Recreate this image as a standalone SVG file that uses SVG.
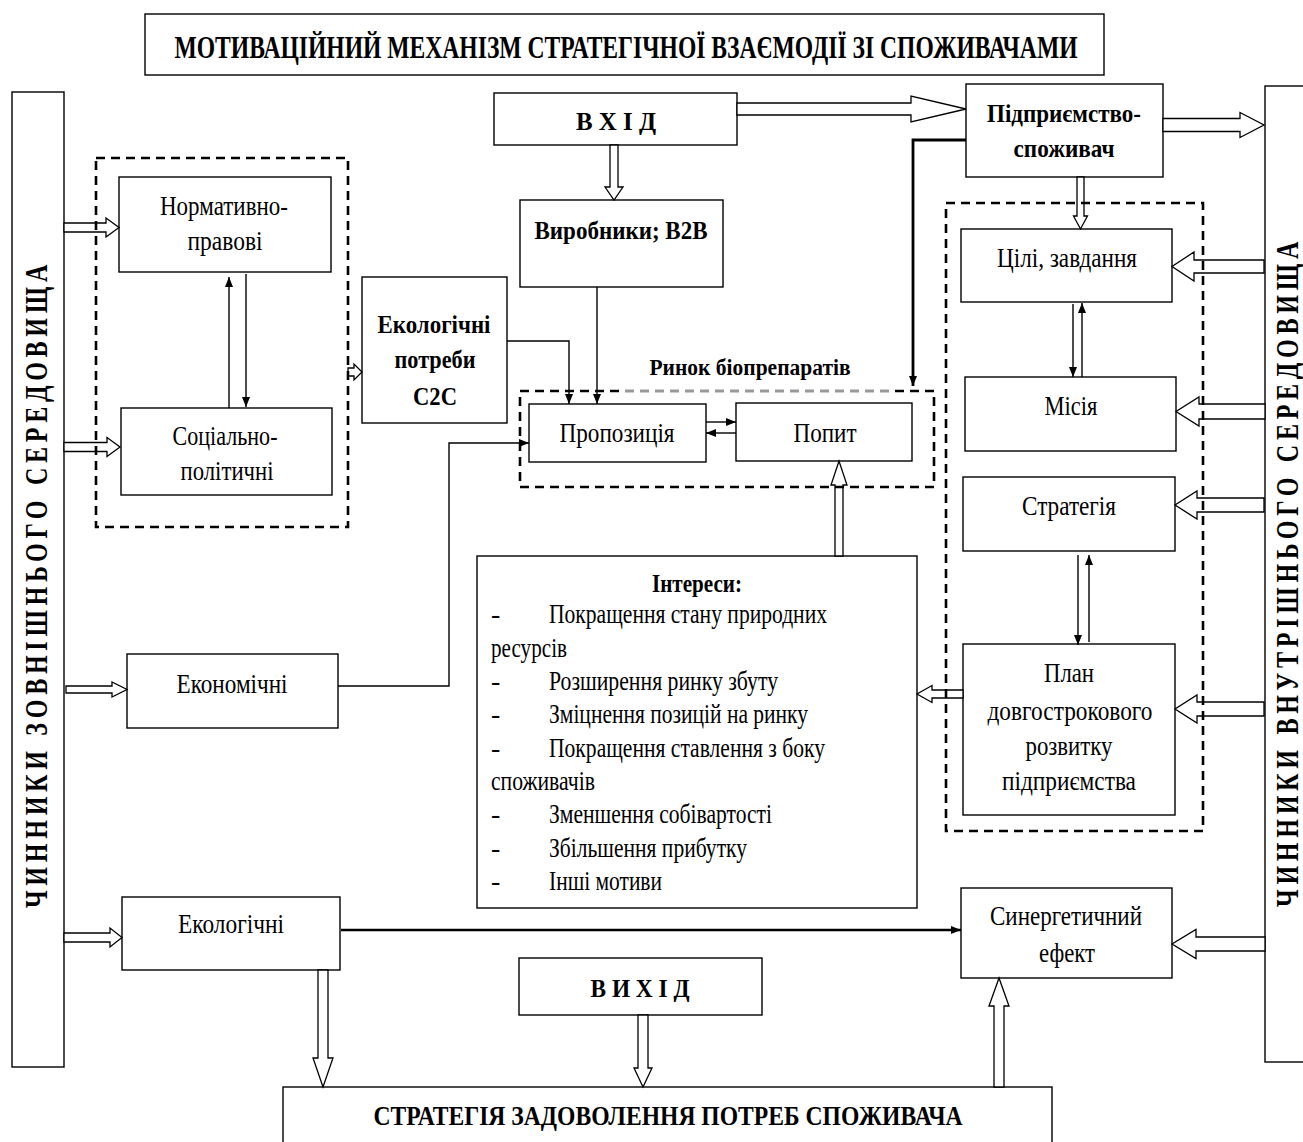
<svg xmlns="http://www.w3.org/2000/svg" width="1303" height="1142" viewBox="0 0 1303 1142">
  <defs>
    <style>
      .box { fill: #fff; stroke: #000; stroke-width: 1.4; }
      .dash { fill: none; stroke: #000; stroke-width: 2.6; stroke-dasharray: 9 6; }
      .ln { fill: none; stroke: #000; stroke-width: 1.4; marker-end: url(#ah); }
      .thick { fill: none; stroke: #000; stroke-width: 2.8; marker-end: url(#ah); }
      .hollow { fill: #fff; stroke: #000; stroke-width: 1.3; stroke-linejoin: miter; }
      text { font-family: "Liberation Serif", "Times New Roman", serif; fill: #000; }
      .t { font-size: 28px; text-anchor: middle; }
      .l { font-size: 28px; }
      .b { font-size: 25px; font-weight: bold; text-anchor: middle; }
      .v { font-size: 31px; font-weight: bold; text-anchor: middle; letter-spacing: 6px; }
    </style>
    <marker id="ah" viewBox="0 0 10 8" refX="10" refY="4" markerWidth="10" markerHeight="8" markerUnits="userSpaceOnUse" orient="auto">
      <path d="M0,0 L10,4 L0,8 Z" fill="#000"/>
    </marker>
  </defs>

  <rect width="1303" height="1142" fill="#fff"/>

  <!-- header -->
  <g id="title">
    <rect class="box" x="145" y="14" width="959" height="61"/>
    <text class="b" transform="translate(626,58) scale(0.723,1)" style="font-size:32px" textLength="1249" lengthAdjust="spacingAndGlyphs">МОТИВАЦІЙНИЙ МЕХАНІЗМ СТРАТЕГІЧНОЇ ВЗАЄМОДІЇ ЗІ СПОЖИВАЧАМИ</text>
  </g>

  <!-- side bars -->
  <g id="external-factors">
    <rect class="box" x="12" y="92" width="52" height="975"/>
    <text class="v" transform="translate(47,584) rotate(-90)" textLength="648" lengthAdjust="spacingAndGlyphs">ЧИННИКИ ЗОВНІШНЬОГО СЕРЕДОВИЩА</text>
  </g>
  <g id="internal-factors">
    <rect class="box" x="1265" y="86" width="50" height="976"/>
    <text class="v" transform="translate(1298,572) rotate(-90)" textLength="670" lengthAdjust="spacingAndGlyphs">ЧИННИКИ ВНУТРІШНЬОГО СЕРЕДОВИЩА</text>
  </g>

  <!-- external factor boxes -->
  <g id="normative">
    <rect class="box" x="119" y="177" width="212" height="95"/>
    <text class="t" x="224" y="215" textLength="128" lengthAdjust="spacingAndGlyphs">Нормативно-</text>
    <text class="t" x="225" y="250" textLength="75" lengthAdjust="spacingAndGlyphs">правові</text>
  </g>
  <g id="social">
    <rect class="box" x="121" y="408" width="211" height="87"/>
    <text class="t" x="225" y="445" textLength="105" lengthAdjust="spacingAndGlyphs">Соціально-</text>
    <text class="t" x="227" y="480" textLength="93" lengthAdjust="spacingAndGlyphs">політичні</text>
  </g>
  <g id="economic">
    <rect class="box" x="127" y="654" width="211" height="74"/>
    <text class="t" x="232" y="693" textLength="111" lengthAdjust="spacingAndGlyphs">Економічні</text>
  </g>
  <g id="ecological">
    <rect class="box" x="122" y="897" width="218" height="73"/>
    <text class="t" x="231" y="933" textLength="106" lengthAdjust="spacingAndGlyphs">Екологічні</text>
  </g>

  <!-- market side -->
  <g id="eco-needs">
    <rect class="box" x="362" y="277" width="145" height="146"/>
    <text class="b" x="434" y="333" textLength="113" lengthAdjust="spacingAndGlyphs">Екологічні</text>
    <text class="b" x="435" y="368" textLength="81" lengthAdjust="spacingAndGlyphs">потреби</text>
    <text class="b" x="435" y="405" textLength="44" lengthAdjust="spacingAndGlyphs">C2C</text>
  </g>
  <g id="input">
    <rect class="box" x="494" y="93" width="243" height="52"/>
    <text class="b" x="616" y="130" style="font-size:26px" textLength="80" lengthAdjust="spacingAndGlyphs">В Х І Д</text>
  </g>
  <g id="producers">
    <rect class="box" x="520" y="200" width="203" height="87"/>
    <text class="b" x="621" y="239" textLength="173" lengthAdjust="spacingAndGlyphs">Виробники; B2B</text>
  </g>
  <g id="market-label">
    <text class="b" x="750" y="375" style="font-size:24px" textLength="201" lengthAdjust="spacingAndGlyphs">Ринок біопрепаратів</text>
  </g>
  <g id="supply">
    <rect class="box" x="529" y="404" width="177" height="58"/>
    <text class="t" x="617" y="442" textLength="115" lengthAdjust="spacingAndGlyphs">Пропозиція</text>
  </g>
  <g id="demand">
    <rect class="box" x="736" y="403" width="176" height="58"/>
    <text class="t" x="825" y="442" textLength="63" lengthAdjust="spacingAndGlyphs">Попит</text>
  </g>

  <!-- enterprise side -->
  <g id="enterprise">
    <rect class="box" x="966" y="84" width="197" height="93"/>
    <text class="b" x="1064" y="122" style="font-size:26px" textLength="154" lengthAdjust="spacingAndGlyphs">Підприємство-</text>
    <text class="b" x="1064" y="157" style="font-size:26px" textLength="101" lengthAdjust="spacingAndGlyphs">споживач</text>
  </g>
  <g id="goals">
    <rect class="box" x="961" y="229" width="211" height="73"/>
    <text class="t" x="1067" y="267" textLength="140" lengthAdjust="spacingAndGlyphs">Цілі, завдання</text>
  </g>
  <g id="mission">
    <rect class="box" x="965" y="377" width="211" height="74"/>
    <text class="t" x="1071" y="415" textLength="53" lengthAdjust="spacingAndGlyphs">Місія</text>
  </g>
  <g id="strategy">
    <rect class="box" x="963" y="477" width="212" height="74"/>
    <text class="t" x="1069" y="515" textLength="94" lengthAdjust="spacingAndGlyphs">Стратегія</text>
  </g>
  <g id="plan">
    <rect class="box" x="963" y="644" width="212" height="171"/>
    <text class="t" x="1069" y="682" textLength="50" lengthAdjust="spacingAndGlyphs">План</text>
    <text class="t" x="1070" y="720" textLength="165" lengthAdjust="spacingAndGlyphs">довгострокового</text>
    <text class="t" x="1069" y="755" textLength="87" lengthAdjust="spacingAndGlyphs">розвитку</text>
    <text class="t" x="1069" y="790" textLength="134" lengthAdjust="spacingAndGlyphs">підприємства</text>
  </g>

  <!-- interests list -->
  <g id="interests">
    <rect class="box" x="477" y="556" width="440" height="352"/>
    <text class="b" x="697" y="592" textLength="90" lengthAdjust="spacingAndGlyphs">Інтереси:</text>
    <text class="l" x="491" y="623">-</text>
    <text class="l" x="549" y="623" textLength="278" lengthAdjust="spacingAndGlyphs">Покращення стану природних</text>
    <text class="l" x="491" y="657" textLength="76" lengthAdjust="spacingAndGlyphs">ресурсів</text>
    <text class="l" x="491" y="690">-</text>
    <text class="l" x="549" y="690" textLength="229" lengthAdjust="spacingAndGlyphs">Розширення ринку збуту</text>
    <text class="l" x="491" y="723">-</text>
    <text class="l" x="549" y="723" textLength="259" lengthAdjust="spacingAndGlyphs">Зміцнення позицій на ринку</text>
    <text class="l" x="491" y="757">-</text>
    <text class="l" x="549" y="757" textLength="276" lengthAdjust="spacingAndGlyphs">Покращення ставлення з боку</text>
    <text class="l" x="491" y="790" textLength="104" lengthAdjust="spacingAndGlyphs">споживачів</text>
    <text class="l" x="491" y="823">-</text>
    <text class="l" x="549" y="823" textLength="223" lengthAdjust="spacingAndGlyphs">Зменшення собівартості</text>
    <text class="l" x="491" y="857">-</text>
    <text class="l" x="549" y="857" textLength="198" lengthAdjust="spacingAndGlyphs">Збільшення прибутку</text>
    <text class="l" x="491" y="890">-</text>
    <text class="l" x="549" y="890" textLength="113" lengthAdjust="spacingAndGlyphs">Інші мотиви</text>
  </g>

  <!-- bottom row -->
  <g id="output">
    <rect class="box" x="519" y="958" width="243" height="57"/>
    <text class="b" x="640" y="997" style="font-size:26px" textLength="99" lengthAdjust="spacingAndGlyphs">В И Х І Д</text>
  </g>
  <g id="synergy">
    <rect class="box" x="961" y="888" width="211" height="90"/>
    <text class="t" x="1066" y="925" textLength="152" lengthAdjust="spacingAndGlyphs">Синергетичний</text>
    <text class="t" x="1067" y="962" textLength="56" lengthAdjust="spacingAndGlyphs">ефект</text>
  </g>
  <g id="consumer-strategy">
    <rect class="box" x="283" y="1087" width="769" height="70"/>
    <text class="b" x="668" y="1125" style="font-size:27px" textLength="589" lengthAdjust="spacingAndGlyphs">СТРАТЕГІЯ ЗАДОВОЛЕННЯ ПОТРЕБ СПОЖИВАЧА</text>
  </g>

  <!-- connectors -->
  <g id="connectors">
    <!-- block arrows -->
    <path class="hollow" d="M64,223 H106 V218 L119,227.5 L106,237 V232 H64 Z"/>
    <path class="hollow" d="M64,442.5 H107 V437.5 L120,447 L107,456.5 V451.5 H64 Z"/>
    <path class="hollow" d="M66,686 H112 V682 L127,689.5 L112,697 V693 H66 Z"/>
    <path class="hollow" d="M64,933 H110 V928 L122,937.5 L110,947 V942 H64 Z"/>
    <path class="hollow" d="M348,368 H354 V364 L362,372 L354,380 V376 H348 Z"/>
    <path class="hollow" d="M737,103 H911 V96 L966,109 L911,122 V115 H737 Z"/>
    <path class="hollow" d="M1163,118.5 H1240 V112.5 L1264,125 L1240,137.5 V131.5 H1163 Z"/>
    <path class="hollow" d="M610,145 V187 H605 L614,200 L623,187 H618 V145 Z"/>
    <path class="hollow" d="M1077,177 V216 H1073.5 L1080.5,229 L1087.5,216 H1084 V177 Z"/>
    <path class="hollow" d="M1264,260 H1194 V252 L1172,266.5 L1194,281 V273 H1264 Z"/>
    <path class="hollow" d="M1265,404 H1199 V397 L1176,411.5 L1199,426 V419 H1265 Z"/>
    <path class="hollow" d="M1264,498 H1197 V491 L1175,505 L1197,519 V512 H1264 Z"/>
    <path class="hollow" d="M1264,702 H1197 V695 L1175,709 L1197,723 V716 H1264 Z"/>
    <path class="hollow" d="M1265,937 H1196 V929.5 L1172,944 L1196,958.5 V951 H1265 Z"/>
    <path class="hollow" d="M963,690 H932 V685.5 L917,694 L932,702.5 V698 H963 Z"/>
    <path class="hollow" d="M835,556 V485 H831 L839,461 L847,485 H843 V556 Z"/>
    <path class="hollow" d="M318,970 V1058 H313 L323,1087 L333,1058 H328 V970 Z"/>
    <path class="hollow" d="M638,1015 V1068 H634 L643,1087 L652,1068 H648 V1015 Z"/>
    <path class="hollow" d="M994,1087 V1006 H989 L999,978 L1009,1006 H1004 V1087 Z"/>

    <!-- line arrows -->
    <line class="ln" x1="229" y1="408" x2="229" y2="277"/>
    <line class="ln" x1="246" y1="274" x2="246" y2="407"/>
    <polyline class="ln" points="507,341 569,341 569,404"/>
    <line class="ln" x1="597" y1="287" x2="597" y2="404"/>
    <polyline class="ln" points="338,686 449,686 449,443 529,443"/>
    <line class="ln" x1="706" y1="422" x2="736" y2="422"/>
    <line class="ln" x1="736" y1="433" x2="706" y2="433"/>
    <polyline class="thick" points="966,140 913,140 913,386"/>
    <line class="ln" x1="1073" y1="304" x2="1073" y2="377"/>
    <line class="ln" x1="1082" y1="377" x2="1082" y2="303"/>
    <line class="ln" x1="1078" y1="555" x2="1078" y2="645"/>
    <line class="ln" x1="1089" y1="642" x2="1089" y2="555"/>
    <line class="thick" x1="341" y1="930" x2="961" y2="930" style="stroke-width:2.4"/>
  </g>

  <!-- dashed groupings -->
  <g id="groups">
    <rect class="dash" x="96" y="158" width="252" height="369"/>
    <rect class="dash" x="520" y="391" width="414" height="96"/>
    <line x1="625" y1="391" x2="893" y2="391" stroke="#fff" stroke-width="3"/>
    <line x1="625" y1="391" x2="893" y2="391" stroke="#999" stroke-width="2.6" stroke-dasharray="9 6"/>
    <rect class="dash" x="946" y="203" width="257" height="628"/>
  </g>
</svg>
